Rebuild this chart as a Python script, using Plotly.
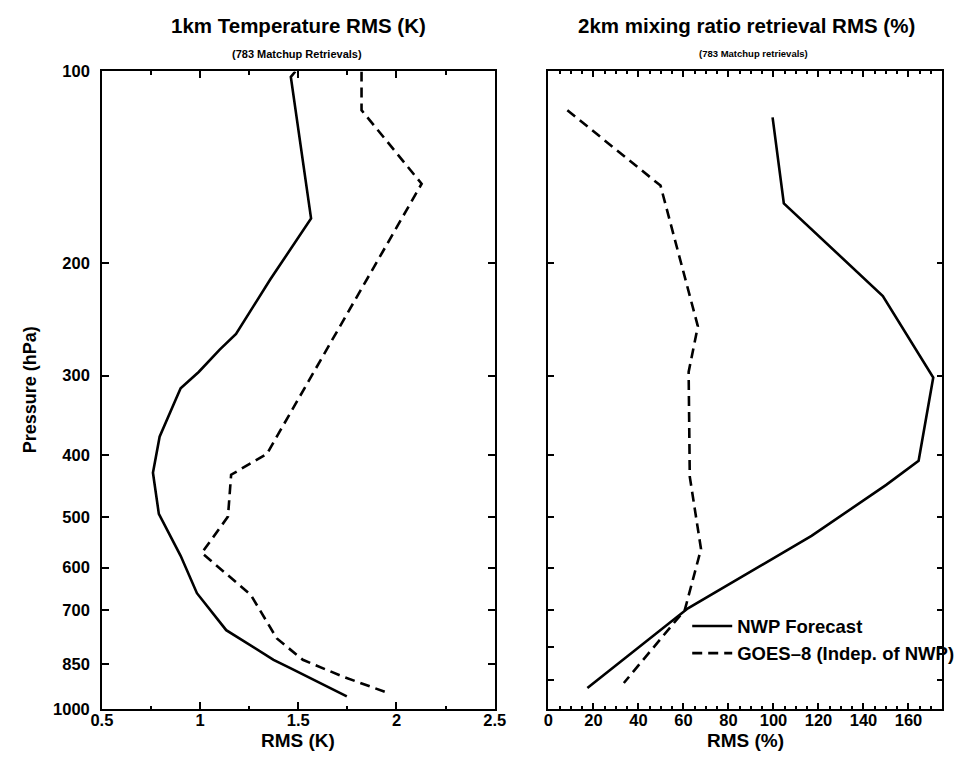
import plotly.graph_objects as go

# Left panel: 1 km temperature RMS (K) versus pressure (hPa)
temp_nwp_p = [100, 102, 170, 212, 258, 273, 296, 314, 327, 374, 426, 494, 575, 658, 752, 837, 862, 955]
temp_nwp = [1.485, 1.462, 1.565, 1.357, 1.183, 1.10, 0.993, 0.901, 0.876, 0.794, 0.760, 0.790,
            0.901, 0.984, 1.133, 1.374, 1.457, 1.747]
temp_goes_p = [100, 115, 150, 398, 429, 499, 569, 662, 775, 837, 888, 943]
temp_goes = [1.822, 1.822, 2.128, 1.34, 1.158, 1.142, 1.009, 1.258, 1.391, 1.523, 1.722, 1.954]

# Right panel: 2 km mixing ratio retrieval RMS (%) versus pressure (hPa)
mix_nwp_p = [118, 161, 225, 302, 408, 445, 535, 695, 927]
mix_nwp = [99.6, 104.6, 148.6, 171.0, 164.5, 150.1, 116.9, 62.0, 17.3]
mix_goes_p = [115, 151, 251, 296, 432, 561, 699, 910]
mix_goes = [8.4, 49.8, 66.4, 62.3, 62.8, 67.8, 60.6, 33.5]

left_p_ticks = [100, 200, 300, 400, 500, 600, 700, 850, 1000]
right_p_ticks = [100, 200, 300, 400, 500, 600, 700, 800, 900, 1000]

W, H = 964, 763
FONT = "Liberation Sans, Arial, Helvetica, sans-serif"
BOLD = dict(family=FONT, color="black", weight="bold")

def px_x(v):
    return v / W

def px_y(v):
    return 1 - v / H

fig = go.Figure()

solid = dict(color="black", width=2.6)
dashed = dict(color="black", width=2.6, dash="10px,6px")

fig.add_trace(go.Scatter(x=temp_nwp, y=temp_nwp_p, mode="lines", line=solid,
                         xaxis="x", yaxis="y", showlegend=False))
fig.add_trace(go.Scatter(x=temp_goes, y=temp_goes_p, mode="lines", line=dashed,
                         xaxis="x", yaxis="y", showlegend=False))
fig.add_trace(go.Scatter(x=mix_nwp, y=mix_nwp_p, mode="lines", line=solid,
                         xaxis="x2", yaxis="y2", name="NWP Forecast"))
fig.add_trace(go.Scatter(x=mix_goes, y=mix_goes_p, mode="lines", line=dashed,
                         xaxis="x2", yaxis="y2", name="GOES–8 (Indep. of NWP)"))

ydom = [px_y(717), px_y(64)]
common_axis = dict(showline=True, linecolor="black", linewidth=1.5, mirror="ticks",
                   ticks="inside", tickcolor="black", showgrid=False, zeroline=False,
                   tickfont=dict(size=16.5, **BOLD))

fig.update_layout(
    width=W, height=H,
    margin=dict(l=0, r=0, t=0, b=0),
    paper_bgcolor="white", plot_bgcolor="white",
    showlegend=True,
    legend=dict(x=px_x(692), y=px_y(613), xanchor="left", yanchor="top",
                bgcolor="rgba(0,0,0,0)", font=dict(size=18.5, **BOLD),
                tracegroupgap=0, itemwidth=40),
    xaxis=dict(domain=[px_x(93), px_x(495)], range=[0.5, 2.5], anchor="y",
               tickvals=[0.5, 1, 1.5, 2, 2.5], ticktext=["0.5", "1", "1.5", "2", "2.5"],
               ticklen=7, tickwidth=1.5, ticklabelstandoff=-5,
               minor=dict(dtick=0.25, tick0=0.5, ticks="inside", ticklen=3.5,
                          tickcolor="black", tickwidth=1.5),
               **common_axis),
    yaxis=dict(domain=ydom, type="log", range=[3, 2], anchor="x",
               tickvals=left_p_ticks, ticktext=[str(v) for v in left_p_ticks],
               ticklen=7, tickwidth=1.5, ticklabelstandoff=7,
               **common_axis),
    xaxis2=dict(domain=[px_x(550), px_x(953)], range=[0, 175], anchor="y2",
                dtick=20, tick0=0, ticklen=6, tickwidth=1.5, ticklabelstandoff=-5,
                minor=dict(dtick=5, tick0=0, ticks="inside", ticklen=3,
                           tickcolor="black", tickwidth=1.5),
                **common_axis),
    yaxis2=dict(domain=ydom, type="log", range=[3, 2], anchor="x2",
                tickvals=right_p_ticks, showticklabels=False,
                ticklen=6, tickwidth=1.5,
                **common_axis),
)

annotations = [
    dict(text="1km Temperature RMS (K)", x=px_x(294), y=px_y(17), size=20.5),
    dict(text="(783 Matchup Retrievals)", x=px_x(293), y=px_y(46), size=11),
    dict(text="2km mixing ratio retrieval RMS (%)", x=px_x(753), y=px_y(17), size=20.5),
    dict(text="(783 Matchup retrievals)", x=px_x(760), y=px_y(46), size=9.5),
    dict(text="RMS (K)", x=px_x(294), y=px_y(749), size=19),
    dict(text="RMS (%)", x=px_x(752), y=px_y(749), size=19),
]
for a in annotations:
    fig.add_annotation(text=a["text"], x=a["x"], y=a["y"], xref="paper", yref="paper",
                       xanchor="center", yanchor="middle", showarrow=False,
                       font=dict(size=a["size"], **BOLD))
fig.add_annotation(text="Pressure (hPa)", x=px_x(19), y=px_y(390), xref="paper", yref="paper",
                   xanchor="center", yanchor="middle", showarrow=False, textangle=-90,
                   font=dict(size=18, **BOLD))

fig.write_html("out.html")
